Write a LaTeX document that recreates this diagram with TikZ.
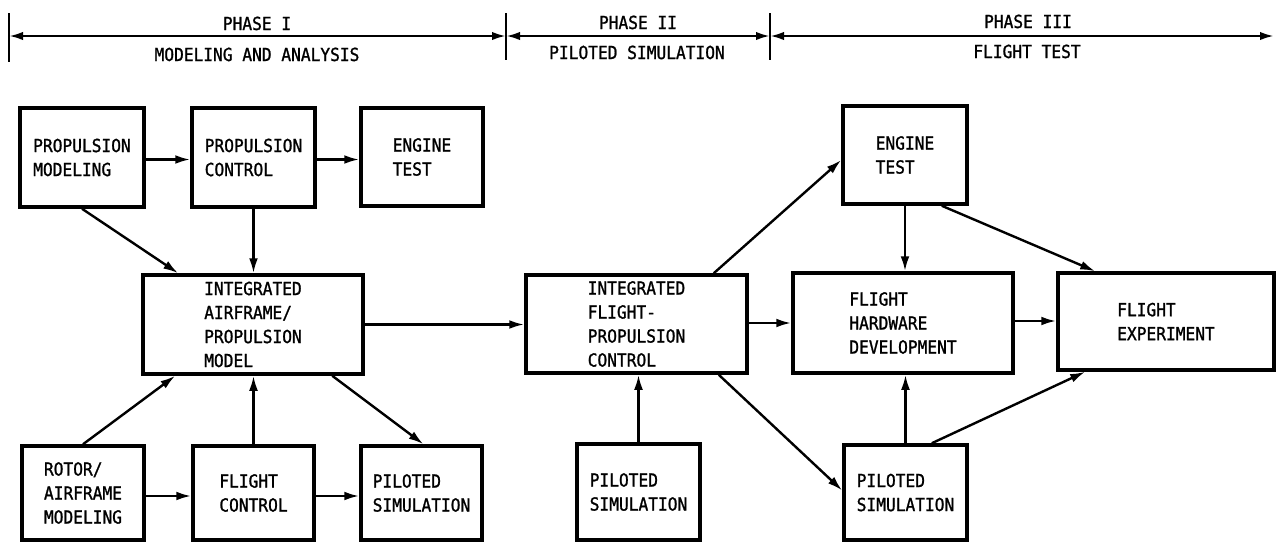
\documentclass[tikz,border=0pt]{standalone}
\usepackage{fontspec}
\newfontfamily\diagfont{DejaVu Sans Mono}[FakeStretch=0.9,FakeBold=1.2]
\usetikzlibrary{arrows.meta,calc}
\begin{document}
\begin{tikzpicture}[x=0.5pt,y=-0.5pt,
  txt/.style={font=\diagfont\fontsize{9}{12}\selectfont,inner sep=0pt},
  box/.style={txt,draw,line width=1.75pt,align=left},
  wh/.style 2 args={minimum width=#1*0.5pt,minimum height=#2*0.5pt},
  conn/.style={line width=1.2pt,-{Latex[length=7.5pt,width=4.4pt]}},
  span/.style={line width=1.2pt,{Latex[length=7pt,width=4.2pt]}-{Latex[length=7pt,width=4.2pt]}},
  tick/.style={line width=1.1pt}]
\useasboundingbox (0,0) rectangle (1276,543);
\clip (0,0) rectangle (1276,543);

% header
\coordinate (t0) at (9,36);
\coordinate (t1) at (506,36);
\coordinate (t2) at (770,36);
\coordinate (t3) at (1274,36);
\draw[tick] (9,13) -- (9,62);
\draw[tick] (506,13) -- (506,60);
\draw[tick] (770,13) -- (770,60);
\draw[span] (t0) -- (t1);
\draw[span] (t1) -- (t2);
\draw[span] (t2) -- (t3);
\node[txt,anchor=base] (h1) at (257,30) {PHASE I};
\node[txt,anchor=base] (h1b) at (257,61) {MODELING AND ANALYSIS};
\node[txt,anchor=base] (h2) at (638,29) {PHASE II};
\node[txt,anchor=base] (h2b) at (637,59) {PILOTED SIMULATION};
\node[txt,anchor=base] (h3) at (1028,28) {PHASE III};
\node[txt,anchor=base] (h3b) at (1027,58) {FLIGHT TEST};

% boxes
\node[box,wh={124}{99}] (pm) at (82,157.5) {PROPULSION\\MODELING};
\node[box,wh={123}{99}] (pc) at (253.5,157.5) {PROPULSION\\CONTROL};
\node[box,wh={122}{98}] (et1) at (422,157) {ENGINE\\TEST};
\node[box,wh={220}{99}] (iap) at (253,324.5) {INTEGRATED\\AIRFRAME/\\PROPULSION\\MODEL};
\node[box,wh={122}{94}] (rot) at (83,493) {ROTOR/\\AIRFRAME\\MODELING};
\node[box,wh={121}{94}] (fc) at (253.5,493) {FLIGHT\\CONTROL};
\node[box,wh={121}{94}] (ps1) at (421.5,493) {PILOTED\\SIMULATION};
\node[box,wh={221}{98}] (ifpc) at (636.5,324) {INTEGRATED\\FLIGHT-\\PROPULSION\\CONTROL};
\node[box,wh={123}{96}] (ps2) at (638.5,492) {PILOTED\\SIMULATION};
\node[box,wh={124}{98}] (et2) at (905,155) {ENGINE\\TEST};
\node[box,wh={220}{100}] (fhd) at (903,323) {FLIGHT\\HARDWARE\\DEVELOPMENT};
\node[box,wh={216}{97}] (fe) at (1166,321.5) {FLIGHT\\EXPERIMENT};
\node[box,wh={123}{95}] (ps3) at (905.5,492.5) {PILOTED\\SIMULATION};

% connectors
\draw[conn] ($(pm.east)+(0,2)$) -- ($(pm.east -| pc.west)+(0,2)$);
\draw[conn] ($(pc.east)+(0,2)$) -- ($(pc.east -| et1.west)+(0,2)$);
\draw[conn] (pm.south) -- ($(iap.north west)+(37,0)$);
\draw[conn] (pc.south) -- (pc.south |- iap.north);
\draw[conn] (rot.north) -- ($(iap.south west)+(34,0)$);
\draw[conn] (fc.north) -- (fc.north |- iap.south);
\draw[conn] ($(iap.south west)+(191,0)$) -- ($(ps1.north)+(2,0)$);
\draw[conn] ($(rot.east)+(0,3)$) -- ($(rot.east -| fc.west)+(0,3)$);
\draw[conn] ($(fc.east)+(0,3)$) -- ($(fc.east -| ps1.west)+(0,3)$);
\draw[conn] (iap.east) -- (iap.east -| ifpc.west);
\draw[conn] ($(ifpc.north east)+(-35,0)$) -- ($(et2.west)+(0,5)$);
\draw[conn] ($(ifpc.east)+(0,-1)$) -- ($(ifpc.east -| fhd.west)+(0,-1)$);
\draw[conn] ($(ifpc.south east)+(-30,0)$) -- ($(ps3.west)+(0,-2)$);
\draw[conn] (ps2.north) -- (ps2.north |- ifpc.south);
\draw[conn] (et2.south) -- (et2.south |- fhd.north);
\draw[conn] ($(et2.south east)+(-27,0)$) -- ($(fe.north west)+(39,0)$);
\draw[conn] ($(fhd.east)+(0,-2)$) -- ($(fhd.east -| fe.west)+(0,-2)$);
\draw[conn] (ps3.north) -- (ps3.north |- fhd.south);
\draw[conn] ($(ps3.north east)+(-37,0)$) -- ($(fe.south west)+(29,0)$);
\end{tikzpicture}
\end{document}
